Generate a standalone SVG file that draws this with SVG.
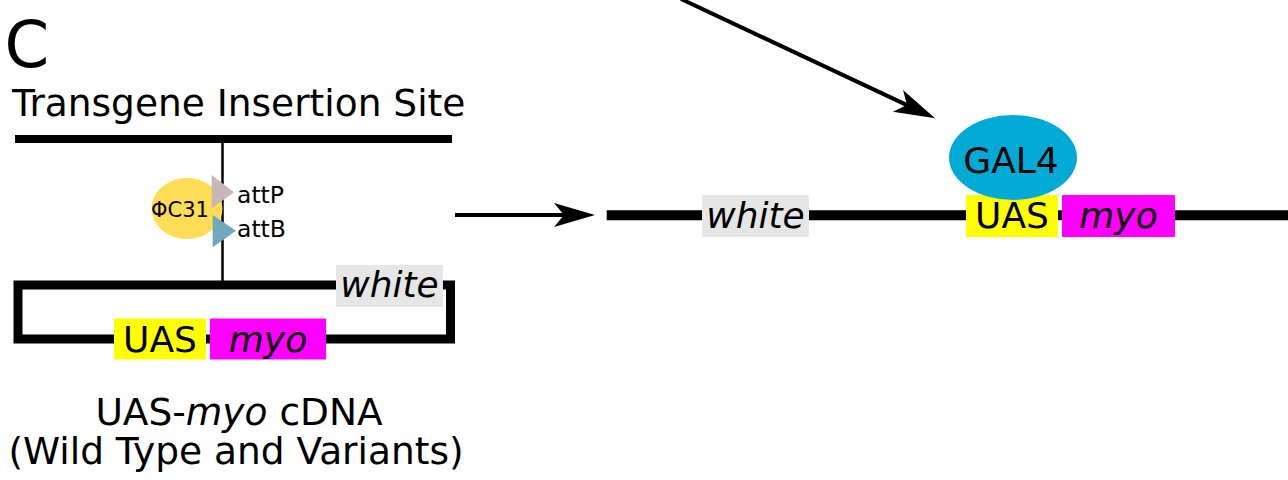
<svg xmlns="http://www.w3.org/2000/svg" width="1288" height="480" viewBox="0 0 1288 480">
<style>
text{font-family:"DejaVu Sans","Verdana",sans-serif;fill:#000}
.lbl{font-size:36px;text-anchor:middle}
.it{font-style:italic}
.cap{font-size:37.5px;text-anchor:middle}
.small{font-size:21px}
.att{font-size:23.5px}
.gray{fill:#e6e6e6}
.yel{fill:#ffff00}
.mag{fill:#ff00ff}
.thick{stroke:#000;fill:none}
.arrow{stroke:#000;stroke-width:4;fill:none}
</style>
<defs>
<marker id="ah" markerUnits="userSpaceOnUse" markerWidth="50" markerHeight="30" viewBox="-2 -15 50 30" refX="10" refY="0" orient="auto">
<path d="M0,-12 L41,0 L0,12 L10,0 Z" fill="#000"/>
</marker>
</defs>
<rect width="1288" height="480" fill="#fff"/>

<g id="panel-label">
<text x="4.5" y="66.5" style="font-size:64px">C</text>
</g>

<g id="insertion-site">
<text x="12" y="115.5" style="font-size:37.5px">Transgene Insertion Site</text>
<line class="thick" x1="15" y1="139" x2="452" y2="139" stroke-width="8"/>
<line x1="222.5" y1="143" x2="222.5" y2="282" stroke="#000" stroke-width="2.5"/>
</g>

<g id="phiC31">
<ellipse cx="187" cy="208.5" rx="35.5" ry="30.5" fill="#ffdd55"/>
<text x="151" y="216.7" class="small">ΦC31</text>
</g>

<g id="attP">
<polygon points="211.7,175 234,192.3 211.7,208.3" fill="#c8b7b7"/>
<text x="237" y="202.7" class="att">attP</text>
</g>

<g id="attB">
<polygon points="212.7,215 236,230.7 212.7,247.3" fill="#71a9bc"/>
<text x="237" y="236.5" class="att">attB</text>
</g>

<g id="plasmid">
<path class="thick" d="M18,285 H450.5 V339 H18 Z" stroke-width="9"/>
</g>

<g id="plasmid-white">
<rect class="gray" x="336" y="265" width="107" height="42"/>
<text class="lbl it" x="389.5" y="297.3">white</text>
</g>

<g id="plasmid-UAS">
<rect class="yel" x="114" y="318.5" width="92" height="41"/>
<text class="lbl" x="160" y="351.7">UAS</text>
</g>

<g id="plasmid-myo">
<rect class="mag" x="210" y="318.5" width="116" height="41"/>
<text class="lbl it" x="268" y="351.7">myo</text>
</g>

<g id="plasmid-caption">
<text class="cap" x="239" y="425">UAS-<tspan class="it">myo</tspan> cDNA</text>
<text class="cap" x="236" y="464">(Wild Type and Variants)</text>
</g>

<g id="chromosome">
<line class="thick" x1="606.7" y1="215.3" x2="1288" y2="215.3" stroke-width="10"/>
</g>

<g id="chr-white">
<rect class="gray" x="702" y="195" width="107" height="42"/>
<text class="lbl it" x="755.5" y="228.3">white</text>
</g>

<g id="chr-UAS">
<rect class="yel" x="966" y="195" width="92" height="42"/>
<text class="lbl" x="1012" y="228.3">UAS</text>
</g>

<g id="chr-myo">
<rect class="mag" x="1062" y="195" width="113" height="42"/>
<text class="lbl it" x="1118.5" y="228.3">myo</text>
</g>

<g id="GAL4">
<ellipse cx="1013" cy="157.5" rx="64" ry="42.5" fill="#00aad4"/>
<text class="lbl" x="1011" y="172.7">GAL4</text>
</g>

<g id="connectors">
<line class="arrow" x1="681" y1="-1" x2="907" y2="105.1" marker-end="url(#ah)"/>
<line class="arrow" x1="455" y1="215" x2="564" y2="215" marker-end="url(#ah)"/>
</g>
</svg>
